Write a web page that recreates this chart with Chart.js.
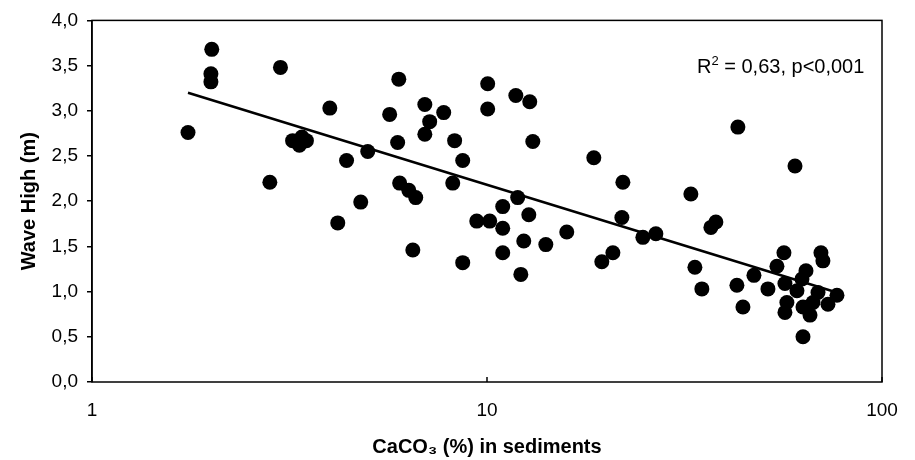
<!DOCTYPE html>
<html>
<head>
<meta charset="utf-8">
<title>Wave high vs CaCO3</title>
<script src="https://cdn.jsdelivr.net/npm/chart.js@4.4.1/dist/chart.umd.min.js"></script>
<style>
  html, body { margin: 0; padding: 0; background: #fff; }
</style>
</head>
<body>
<canvas id="myChart-WaveCaco3" width="915" height="460"></canvas>
<script>
// CaCO3 (%) in sediments
const caco3 = [
    1.75, 2.01, 2.00, 2.00, 2.82, 3.00, 3.22, 3.40, 3.35, 3.49,
    4.00, 4.19, 4.41, 4.79, 4.99, 5.67, 5.98, 5.94, 6.01, 6.34,
    6.60, 6.49, 6.96, 6.96, 7.16, 7.77, 8.28, 8.19, 8.68, 8.68,
    9.42, 10.04, 10.04, 10.16, 10.96, 11.96, 12.76, 10.96, 10.96, 12.39,
    14.09, 12.18, 15.92, 11.83, 12.83, 13.06, 18.64, 22.08, 32.82, 21.95,
    26.76, 24.81, 36.88, 37.97, 20.83, 19.53, 33.60, 34.99, 43.17, 60.22,
    42.92, 47.40, 44.46, 51.43, 56.46, 54.20, 56.79, 60.91, 64.20, 62.72,
    70.05, 70.86, 57.44, 56.79, 63.09, 65.72, 66.88, 68.86, 72.98, 76.91,
    63.09
];
// Wave high (m)
const waveHigh = [
    2.76, 3.68, 3.41, 3.32, 2.21, 3.48, 2.67, 2.71, 2.62, 2.67,
    3.03, 1.76, 2.45, 1.99, 2.55, 2.96, 3.35, 2.65, 2.20, 2.12,
    2.04, 1.46, 3.07, 2.74, 2.88, 2.98, 2.67, 2.20, 2.45, 1.32,
    1.78, 3.30, 3.02, 1.78, 1.94, 2.04, 1.85, 1.70, 1.43, 1.56,
    1.52, 1.19, 1.66, 3.17, 3.10, 2.66, 2.48, 2.21, 2.08, 1.82,
    1.64, 1.60, 1.71, 1.77, 1.43, 1.33, 1.27, 1.03, 2.82, 2.39,
    1.07, 1.18, 0.83, 1.03, 1.43, 1.28, 1.09, 1.01, 1.23, 1.14,
    1.43, 1.34, 0.88, 0.77, 0.83, 0.74, 0.88, 0.99, 0.86, 0.96,
    0.50
];
// trend line ends
const trendX = [1.75, 76.9];
const trendY = [3.20, 0.99];

const xTicks = [1, 10, 100];
const yTicks = [0, 0.5, 1, 1.5, 2, 2.5, 3, 3.5, 4];

const FONT = '"Liberation Sans", Arial, Helvetica, sans-serif';
Chart.defaults.font.family = FONT;
Chart.defaults.color = '#000';

// box round the plot, small inner ticks on x, and the R2 text
const frame = {
    id: 'frame',
    afterDraw(chart) {
        const ctx = chart.ctx;
        const a = chart.chartArea;
        const x = chart.scales.x;
        ctx.save();
        ctx.strokeStyle = '#000';
        ctx.lineWidth = 1.5;
        ctx.strokeRect(a.left, a.top, a.right - a.left, a.bottom - a.top);
        xTicks.forEach(v => {
            const px = x.getPixelForValue(v);
            ctx.beginPath();
            ctx.moveTo(px, a.bottom);
            ctx.lineTo(px, a.bottom - 5);
            ctx.stroke();
        });

        ctx.fillStyle = '#000';
        ctx.textBaseline = 'alphabetic';
        ctx.textAlign = 'left';
        let tx = a.right - 185;
        const ty = a.top + 53;
        ctx.font = '20px ' + FONT;
        ctx.fillText('R', tx, ty);
        tx += ctx.measureText('R').width;
        ctx.font = '13px ' + FONT;
        ctx.fillText('2', tx, ty - 8);
        tx += ctx.measureText('2').width;
        ctx.font = '20px ' + FONT;
        ctx.fillText(' = 0,63, p<0,001', tx, ty);
        ctx.restore();
    }
};

const points = caco3.map((v, i) => ({ x: v, y: waveHigh[i] }));
const trend = trendX.map((v, i) => ({ x: v, y: trendY[i] }));

new Chart(document.getElementById('myChart-WaveCaco3'), {
    type: 'scatter',
    data: {
        datasets: [{
            label: 'Wave High',
            data: points,
            backgroundColor: '#000',
            borderWidth: 0,
            pointRadius: 7.5,
            pointHoverRadius: 7.5
        }, {
            type: 'line',
            label: 'Trend',
            data: trend,
            borderColor: '#000',
            borderWidth: 2.5,
            pointRadius: 0,
            fill: false
        }]
    },
    options: {
        responsive: false,
        animation: false,
        devicePixelRatio: 1,
        layout: { padding: { left: 0, top: 20, right: 33, bottom: 0 } },
        plugins: {
            legend: { display: false },
            tooltip: { enabled: false }
        },
        scales: {
            x: {
                type: 'logarithmic',
                min: 1,
                max: 100,
                afterBuildTicks: axis => { axis.ticks = xTicks.map(v => ({ value: v })); },
                afterFit: axis => { axis.height = 78; },
                grid: { display: false, drawTicks: false },
                border: { display: false },
                ticks: {
                    padding: 17,
                    font: { size: 19 },
                    maxRotation: 0,
                    callback: v => String(v)
                },
                title: {
                    display: true,
                    text: 'CaCO₃ (%) in sediments',
                    font: { size: 20, weight: 'bold' },
                    padding: { top: 0, bottom: 1 }
                }
            },
            y: {
                min: 0,
                max: 4,
                afterBuildTicks: axis => { axis.ticks = yTicks.map(v => ({ value: v })); },
                afterFit: axis => { axis.width = 92; },
                grid: {
                    drawOnChartArea: false,
                    drawTicks: true,
                    tickLength: 5,
                    color: '#000',
                    lineWidth: 1.5
                },
                border: { display: true, color: '#000', width: 1.5 },
                ticks: {
                    padding: 9,
                    font: { size: 19 },
                    callback: v => Number(v).toFixed(1).replace('.', ',')
                },
                title: {
                    display: true,
                    text: 'Wave High (m)',
                    font: { size: 20, weight: 'bold' },
                    padding: { top: 17, bottom: 0 }
                }
            }
        }
    },
    plugins: [frame]
});
</script>
</body>
</html>
